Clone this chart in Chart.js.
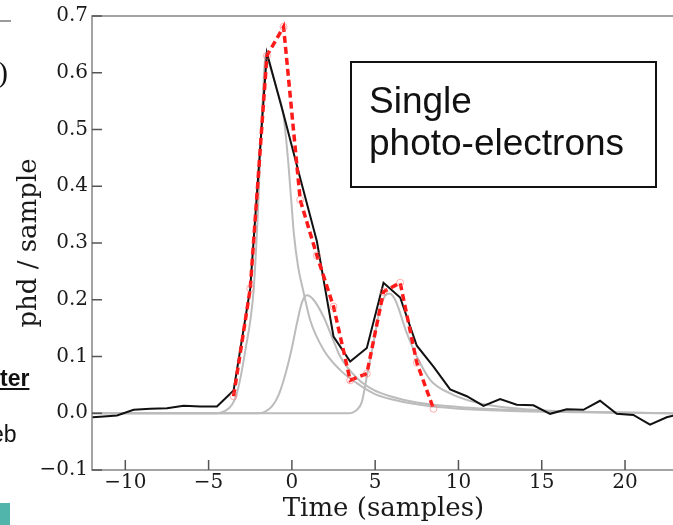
<!DOCTYPE html>
<html>
<head>
<meta charset="utf-8">
<script src="https://cdn.jsdelivr.net/npm/chart.js@4.4.1/dist/chart.umd.min.js"></script>
<style>
  html, body { margin: 0; padding: 0; background: #fff; }
  body { width: 673px; height: 525px; overflow: hidden; position: relative; }
  #wrap { position: absolute; left: 0; top: 0; width: 690px; height: 525px; }
  .frag { position: absolute; white-space: nowrap; color: #111; }
  .paren { left: -2px; top: 55px; font: 30px "Liberation Serif", serif; }
  .rule { position: absolute; left: 0; top: 20px; width: 11px; height: 2px; background: #9a9a9a; }
  .ter { left: 0px; top: 365px; font: bold 23px "Liberation Sans", Arial, sans-serif; text-decoration: underline; }
  .eb { left: -9px; top: 421px; font: 23px "Liberation Sans", Arial, sans-serif; }
  .teal { position: absolute; left: 0; top: 503px; width: 10px; height: 22px; background: #52b5ab; }
  .note {
    position: absolute; left: 350px; top: 61px; width: 307px; height: 127px; box-sizing: border-box;
    border: 2px solid #111; padding: 17px 0 0 17px;
    font: 37px/42px "Liberation Sans", Arial, sans-serif; color: #111;
  }
</style>
</head>
<body>
<div id="wrap"><canvas id="c" width="690" height="525"></canvas></div>
<div class="rule"></div>
<div class="frag paren">)</div>
<div class="frag ter">ter</div>
<div class="frag eb">eb</div>
<div class="teal"></div>
<div class="note">Single<br>photo-electrons</div>
<script>
// samples sit at half-integer times
const sampleTimes = [-12.5, -11.5, -10.5, -9.5, -8.5, -7.5, -6.5, -5.5, -4.5, -3.5, -2.5, -1.5, -0.5,
  0.5, 1.5, 2.5, 3.5, 4.5, 5.5, 6.5, 7.5, 8.5, 9.5, 10.5, 11.5, 12.5, 13.5, 14.5, 15.5, 16.5,
  17.5, 18.5, 19.5, 20.5, 21.5, 22.5, 23.5];
const waveform = [-0.008, -0.006, -0.004, 0.006, 0.008, 0.009, 0.013, 0.012, 0.012, 0.040, 0.220, 0.635, 0.527,
  0.414, 0.303, 0.135, 0.091, 0.115, 0.230, 0.204, 0.119, 0.082, 0.042, 0.030, 0.013, 0.025, 0.015, 0.014,
  -0.001, 0.007, 0.006, 0.022, -0.001, -0.003, -0.020, -0.007, 0.000];

const fitTimes = [-3.5, -2.5, -1.5, -0.5, 0.5, 1.5, 2.5, 3.5, 4.5, 5.5, 6.5, 7.5, 8.5];
const fitValues = [0.030, 0.220, 0.630, 0.681, 0.376, 0.278, 0.188, 0.058, 0.070, 0.214, 0.230, 0.089, 0.008];

// single photo-electron templates
const spe1Times = [-12, -4.5, -4.0, -3.6, -3.3, -2.8, -2.3, -2.05, -1.8, -1.55, -1.3, -0.9, -0.5, -0.2, 0.0,
  0.12, 0.38, 0.68, 1.1, 1.9, 2.9, 3.9, 4.9, 5.9, 7.9, 10, 13, 16, 23];
const spe1Values = [0, 0, 0.004, 0.015, 0.035, 0.11, 0.216, 0.348, 0.524, 0.635, 0.61, 0.57, 0.524, 0.436, 0.36,
  0.316, 0.257, 0.216, 0.164, 0.112, 0.076, 0.053, 0.035, 0.025, 0.014, 0.008, 0.004, 0.002, 0];

const spe2Times = [-12, -2.0, -1.6, -1.2, -0.8, -0.4, 0.0, 0.3, 0.6, 0.9, 1.3, 1.9, 2.4, 2.9, 3.9, 4.9, 5.9, 7.5,
  10, 14, 18, 23];
const spe2Values = [0, 0, 0.003, 0.012, 0.032, 0.068, 0.115, 0.158, 0.195, 0.208, 0.200, 0.170, 0.135, 0.10, 0.062,
  0.041, 0.030, 0.019, 0.011, 0.005, 0.002, 0];

const spe3Times = [-12, 3.4, 3.9, 4.2, 4.5, 4.9, 5.3, 5.6, 5.85, 6.2, 6.9, 7.5, 8.3, 9.5, 10.9, 11.9, 14, 17, 23];
const spe3Values = [0, 0, 0.006, 0.02, 0.065, 0.125, 0.185, 0.207, 0.211, 0.200, 0.141, 0.10, 0.059, 0.035,
  0.020, 0.014, 0.007, 0.003, 0];

const xTicks = [-10, -5, 0, 5, 10, 15, 20];
const yTicks = [-0.1, 0.0, 0.1, 0.2, 0.3, 0.4, 0.5, 0.6, 0.7];

const pts = (xs, ys) => xs.map((x, i) => ({ x, y: ys[i] }));
const minus = (s) => String(s).replace("-", "\u2212");
const serif = '"DejaVu Serif", serif';

// matplotlib-ish frame: full box with ticks pointing inward
const framePlugin = {
  id: "frame",
  afterDatasetsDraw(chart) {
    const { ctx, chartArea: a, scales } = chart;
    ctx.save();
    ctx.strokeStyle = "#858585";
    ctx.lineWidth = 1.5;
    ctx.strokeRect(a.left, a.top, a.right - a.left, a.bottom - a.top);
    ctx.strokeStyle = "#555";
    ctx.beginPath();
    xTicks.forEach((v) => {
      const px = scales.x.getPixelForValue(v);
      ctx.moveTo(px, a.bottom);
      ctx.lineTo(px, a.bottom - 10);
    });
    yTicks.forEach((v) => {
      const py = scales.y.getPixelForValue(v);
      ctx.moveTo(a.left, py);
      ctx.lineTo(a.left + 10, py);
    });
    ctx.stroke();
    ctx.restore();
  },
};

const grey = "#bcbcbc";
const greyLine = (data) => ({
  data,
  borderColor: grey,
  borderWidth: 2,
  pointRadius: 0,
  cubicInterpolationMode: "monotone",
  order: 3,
});

new Chart(document.getElementById("c").getContext("2d"), {
  type: "line",
  data: {
    datasets: [
      {
        data: pts(fitTimes, fitValues),
        borderColor: "#ff1a1a",
        borderWidth: 3.5,
        borderDash: [7, 4],
        pointRadius: 3.5,
        pointBorderWidth: 1,
        pointBorderColor: "rgba(255, 110, 110, 0.55)",
        pointBackgroundColor: "rgba(0, 0, 0, 0)",
        order: 1,
      },
      {
        data: pts(sampleTimes, waveform),
        borderColor: "#111",
        borderWidth: 2,
        pointRadius: 0,
        order: 2,
      },
      greyLine(pts(spe1Times, spe1Values)),
      greyLine(pts(spe2Times, spe2Values)),
      greyLine(pts(spe3Times, spe3Values)),
    ],
  },
  options: {
    responsive: false,
    animation: false,
    devicePixelRatio: 1,
    layout: { padding: { top: 15, right: 15, left: 0, bottom: 0 } },
    plugins: { legend: { display: false }, tooltip: { enabled: false } },
    scales: {
      x: {
        type: "linear",
        min: -12,
        max: 23,
        grid: { display: false, drawTicks: false },
        border: { display: false },
        afterBuildTicks: (s) => { s.ticks = xTicks.map((value) => ({ value })); },
        afterFit: (s) => { s.height = 55; },
        ticks: {
          padding: 1,
          maxRotation: 0,
          color: "#1a1a1a",
          font: { family: serif, size: 20 },
          callback: (v) => minus(v),
        },
        title: {
          display: true,
          text: "Time (samples)",
          color: "#1a1a1a",
          font: { family: serif, size: 26 },
          padding: { top: 0, bottom: 0 },
        },
      },
      y: {
        min: -0.1,
        max: 0.7,
        grid: { display: false, drawTicks: false },
        border: { display: false },
        afterBuildTicks: (s) => { s.ticks = yTicks.map((value) => ({ value })); },
        afterFit: (s) => { s.width = 92; },
        ticks: {
          padding: 4,
          color: "#1a1a1a",
          font: { family: serif, size: 20 },
          callback: (v) => minus(Number(v).toFixed(1)),
        },
        title: {
          display: true,
          text: "phd / sample",
          color: "#1a1a1a",
          font: { family: serif, size: 26 },
          padding: { top: 14, bottom: 0 },
        },
      },
    },
  },
  plugins: [framePlugin],
});
</script>
</body>
</html>
